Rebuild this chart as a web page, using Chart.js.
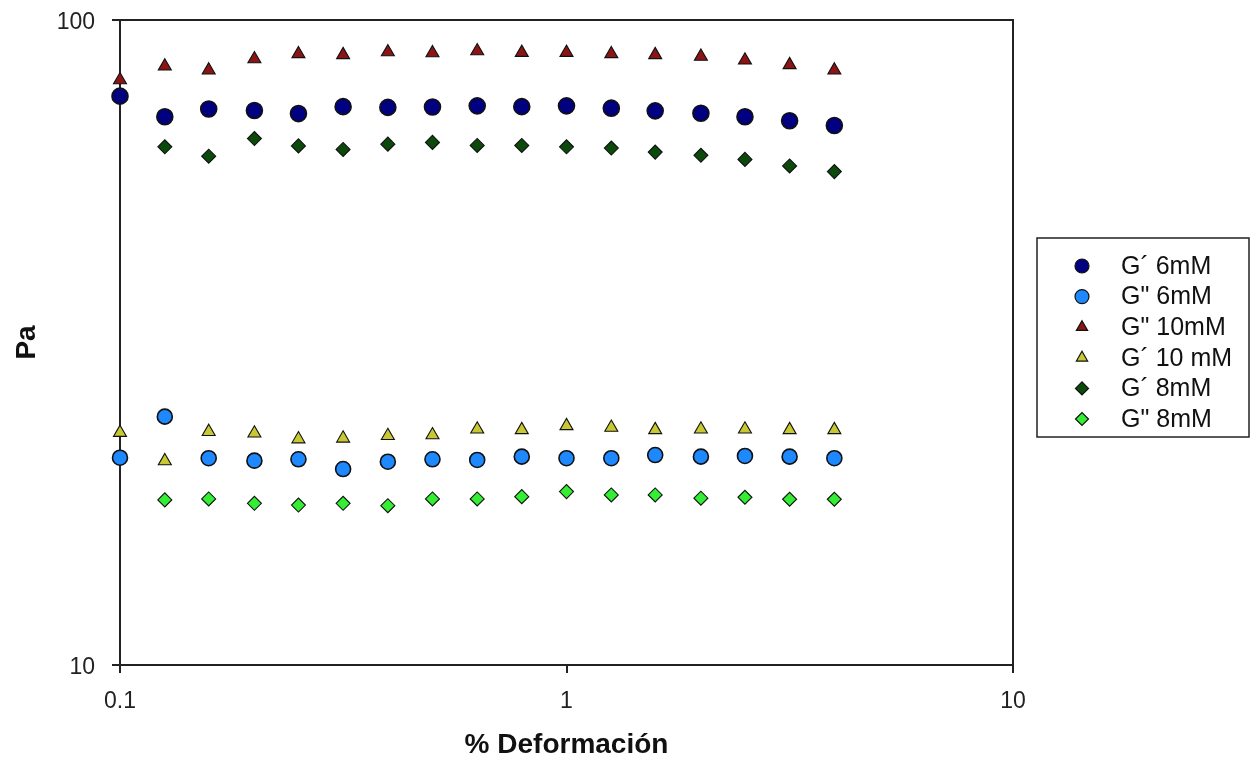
<!DOCTYPE html>
<html>
<head>
<meta charset="utf-8">
<script src="https://cdn.jsdelivr.net/npm/chart.js@4.4.1/dist/chart.umd.min.js"></script>
<style>
  html, body { margin: 0; padding: 0; background: #fff; }
  #wrap { width: 1250px; height: 765px; position: relative; }
</style>
</head>
<body>
<div id="wrap"><canvas id="chart" width="1250" height="765"></canvas></div>
<script>
// % deformación (strain) values
const strain = [0.1, 0.126, 0.158, 0.2, 0.251, 0.316, 0.398, 0.501, 0.631, 0.794, 1, 1.26, 1.58, 2, 2.51, 3.16, 3.98];

// Pa values (null = no point)
const gp6 =   [76.2, 70.8, 72.8, 72.4, 71.6, 73.4, 73.2, 73.3, 73.6, 73.4, 73.6, 73.0, 72.3, 71.7, 70.8, 69.8, 68.6];
const gpp6 =  [20.96, 24.27, 20.92, 20.74, 20.84, 20.13, 20.66, 20.84, 20.79, 21.04, 20.92, 20.92, 21.16, 21.04, 21.09, 21.04, 20.92];
const gpp10 = [80.7, 84.8, 83.6, 87.0, 88.6, 88.3, 89.2, 88.9, 89.5, 89.0, 89.0, 88.6, 88.3, 87.8, 86.6, 85.2, 83.6];
const gp10 =  [22.92, 20.72, 23.0, 22.87, 22.40, 22.46, 22.67, 22.73, 23.2, 23.15, 23.48, 23.34, 23.15, 23.2, 23.2, 23.15, 23.15];
const gp8 =   [null, 63.6, 61.5, 65.5, 63.8, 63.0, 64.2, 64.6, 63.9, 63.9, 63.6, 63.3, 62.4, 61.7, 60.8, 59.4, 58.2];
const gpp8 =  [null, 18.03, 18.09, 17.81, 17.70, 17.81, 17.66, 18.09, 18.09, 18.24, 18.57, 18.35, 18.35, 18.14, 18.20, 18.07, 18.07];

const xTicks = [0.1, 1, 10];
const yTicks = [10, 100];

const FONT = "'Liberation Sans', Arial, sans-serif";

function pts(ys) {
  const out = [];
  ys.forEach((y, i) => { if (y !== null) out.push({ x: strain[i], y: y }); });
  return out;
}

const series = [
  { label: 'G\u00b4 6mM',  data: gp6,   style: 'circle',   r: 8,   lr: 7,   fill: '#000080' },
  { label: 'G" 6mM',       data: gpp6,  style: 'circle',   r: 7.5, lr: 7,   fill: '#1E88FF' },
  { label: 'G" 10mM',      data: gpp10, style: 'triangle', r: 7.5, lr: 6.5, fill: '#8B1414' },
  { label: 'G\u00b4 10 mM', data: gp10, style: 'triangle', r: 7.5, lr: 6.5, fill: '#C8C832' },
  { label: 'G\u00b4 8mM',  data: gp8,   style: 'rectRot',  r: 7,   lr: 6.5, fill: '#0B4A0B' },
  { label: 'G" 8mM',       data: gpp8,  style: 'rectRot',  r: 7,   lr: 6.5, fill: '#33EE33' }
];

// plot frame (top/right edges) drawn under the markers
const framePlugin = {
  id: 'frame',
  beforeDatasetsDraw(chart) {
    const { ctx, chartArea: a } = chart;
    ctx.save();
    ctx.strokeStyle = '#222';
    ctx.lineWidth = 2;
    ctx.strokeRect(a.left, a.top, a.right - a.left, a.bottom - a.top);
    ctx.restore();
  }
};

// boxed legend at the right, like the original
const legendPlugin = {
  id: 'boxLegend',
  afterDraw(chart) {
    const { ctx } = chart;
    ctx.save();
    ctx.strokeStyle = '#222';
    ctx.lineWidth = 1.5;
    ctx.strokeRect(1037, 238, 212, 199);
    ctx.font = '25px ' + FONT;
    ctx.textBaseline = 'middle';
    series.forEach((s, i) => {
      const y = 266 + i * 30.6;
      ctx.fillStyle = s.fill;
      ctx.strokeStyle = '#111';
      ctx.lineWidth = 1.2;
      Chart.helpers.drawPoint(ctx, { pointStyle: s.style, radius: s.lr, rotation: 0, borderWidth: 1.2 }, 1082, y);
      ctx.fillStyle = '#111';
      ctx.fillText(s.label, 1121, y + 1);
    });
    ctx.restore();
  }
};

new Chart(document.getElementById('chart'), {
  type: 'scatter',
  data: {
    datasets: series.map(s => ({
      label: s.label,
      data: pts(s.data),
      pointStyle: s.style,
      pointRadius: s.r,
      pointHoverRadius: s.r,
      backgroundColor: s.fill,
      borderColor: '#111',
      borderWidth: s.style === 'circle' ? 1.6 : 1.1,
      clip: false
    }))
  },
  options: {
    responsive: false,
    animation: false,
    layout: { padding: { top: 20, right: 237, bottom: 0, left: 0 } },
    plugins: { legend: { display: false }, tooltip: { enabled: false } },
    scales: {
      x: {
        type: 'logarithmic',
        min: 0.1,
        max: 10,
        afterBuildTicks: sc => { sc.ticks = xTicks.map(v => ({ value: v })); },
        afterFit: sc => { sc.height = 100; sc.paddingLeft = 0; sc.paddingRight = 0; },
        ticks: {
          autoSkip: false,
          maxRotation: 0,
          padding: 15,
          color: '#222',
          font: { family: FONT, size: 23 },
          callback: v => String(v)
        },
        grid: { drawOnChartArea: false, drawTicks: true, tickLength: 8, color: '#222', lineWidth: 2 },
        border: { display: true, color: '#222', width: 2 },
        title: {
          display: true,
          text: '% Deformación',
          color: '#111',
          font: { family: FONT, size: 28, weight: 'bold' },
          padding: { top: 0, bottom: 3 }
        }
      },
      y: {
        type: 'logarithmic',
        min: 10,
        max: 100,
        afterBuildTicks: sc => { sc.ticks = yTicks.map(v => ({ value: v })); },
        afterFit: sc => { sc.width = 120; sc.paddingTop = 0; sc.paddingBottom = 0; },
        ticks: {
          autoSkip: false,
          padding: 17,
          labelOffset: 3,
          color: '#222',
          font: { family: FONT, size: 23 },
          callback: v => String(v)
        },
        grid: { drawOnChartArea: false, drawTicks: true, tickLength: 8, color: '#222', lineWidth: 2 },
        border: { display: true, color: '#222', width: 2 },
        title: {
          display: true,
          text: 'Pa',
          color: '#111',
          font: { family: FONT, size: 28, weight: 'bold' },
          padding: { top: 10, bottom: 0 }
        }
      }
    }
  },
  plugins: [framePlugin, legendPlugin]
});
</script>
</body>
</html>
